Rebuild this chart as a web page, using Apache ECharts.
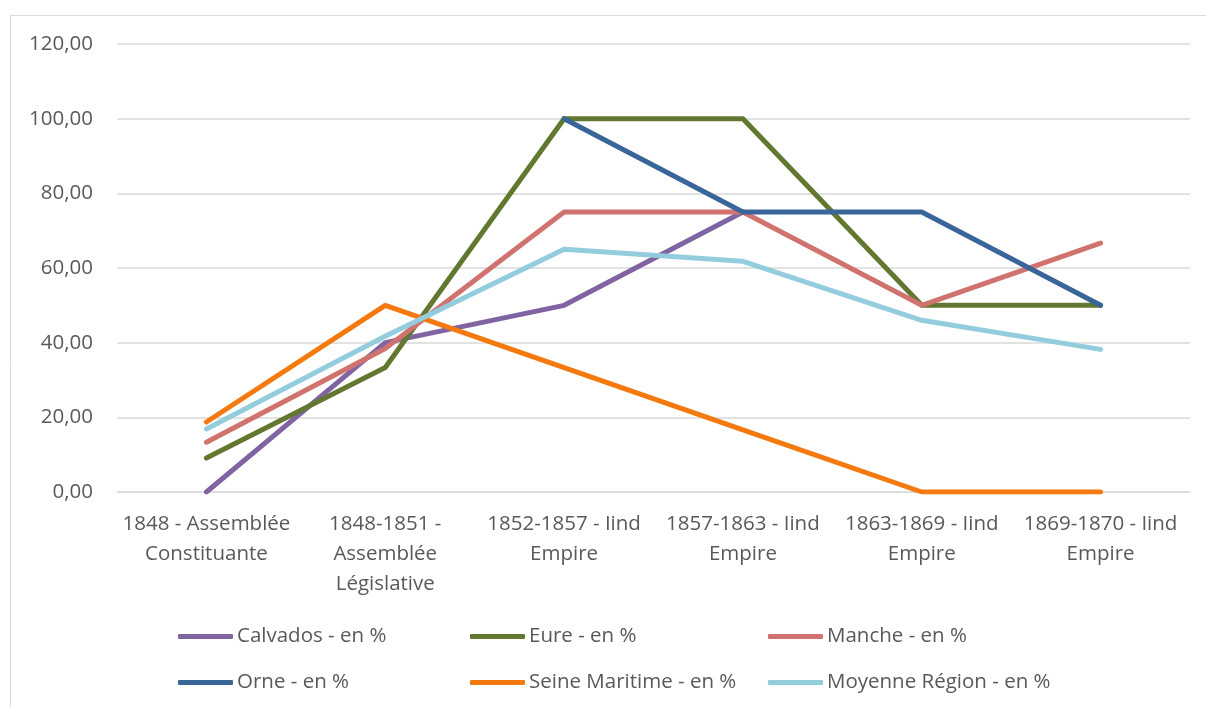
<!DOCTYPE html>
<html><head><meta charset="utf-8">
<script src="https://cdn.jsdelivr.net/npm/echarts@6/dist/echarts.min.js"></script>
<style>html,body{margin:0;padding:0;background:#fff}#c{width:1206px;height:707px}</style>
</head><body><div id="c"></div>
<script>
const categories = ["1848 - Assemblée\nConstituante","1848-1851 -\nAssemblée\nLégislative","1852-1857 - Iind\nEmpire","1857-1863 - Iind\nEmpire","1863-1869 - Iind\nEmpire","1869-1870 - Iind\nEmpire"];
const seriesNames = ["Calvados - en %","Eure - en %","Manche - en %","Orne - en %","Seine Maritime - en %","Moyenne Région - en %"];
const calvados = [0, 40, 50, 75, null, null];
const eure = [9.09, 33.33, 100, 100, 50, 50];
const manche = [13.33, 38.46, 75, 75, 50, 66.67];
const orne = [null, null, 100, 75, 75, 50];
const seine = [18.75, 50, 33.33, 16.67, 0, 0];
const moyenne = [16.9, 41.7, 65, 61.8, 46, 38.2];
const yTicks = {min: 0, max: 120, interval: 20};
const colors = ["#8064A2","#62772F","#D0736F","#3A6599","#F47A10","#93CDDD"];
const values = [calvados, eure, manche, orne, seine, moyenne];
const font = "Open Sans";
const textColor = "#595959";
const legendPos = [[178,626],[470,626],[768,626],[178,672],[470,672],[768,672]];

const chart = echarts.init(document.getElementById('c'), null, {renderer:'canvas'});
chart.setOption({
  animation:false,
  color: colors,
  textStyle:{fontFamily:font},
  graphic:[{type:'rect', shape:{x:10.5,y:15.5,width:1220,height:720}, style:{fill:'none', stroke:'#d9d9d9', lineWidth:1}, silent:true}],
  grid:{left:117, right:16, top:44, bottom:215},
  xAxis:{type:'category', data:categories, boundaryGap:true,
    axisLine:{lineStyle:{color:'#d9d9d9'}}, axisTick:{show:false},
    axisLabel:{interval:0, color:textColor, fontSize:20.5, fontFamily:font, lineHeight:30, margin:17}},
  yAxis:{type:'value', min:yTicks.min, max:yTicks.max, interval:yTicks.interval,
    axisLine:{show:false}, axisTick:{show:false},
    splitLine:{lineStyle:{color:'#d9d9d9', width:1.5}},
    axisLabel:{color:textColor, fontSize:20.5, fontFamily:font, margin:24,
      formatter:v=>v.toFixed(2).replace('.',',')}},
  legend: seriesNames.map((n,i)=>({
    data:[n], left:legendPos[i][0], top:legendPos[i][1], padding:0, itemWidth:55, itemHeight:5, itemGap:4,
    icon:'roundRect',
    textStyle:{color:textColor, fontSize:20.5, fontFamily:font, padding:[0,0,0,-1]},
    selectedMode:false
  })),
  series: seriesNames.map((n,i)=>({
    name:n, type:'line', data:values[i], symbol:'none', showSymbol:false,
    lineStyle:{width:5, color:colors[i], cap:'round', join:'round'},
    itemStyle:{color:colors[i]}, connectNulls:false
  }))
});
</script></body></html>
